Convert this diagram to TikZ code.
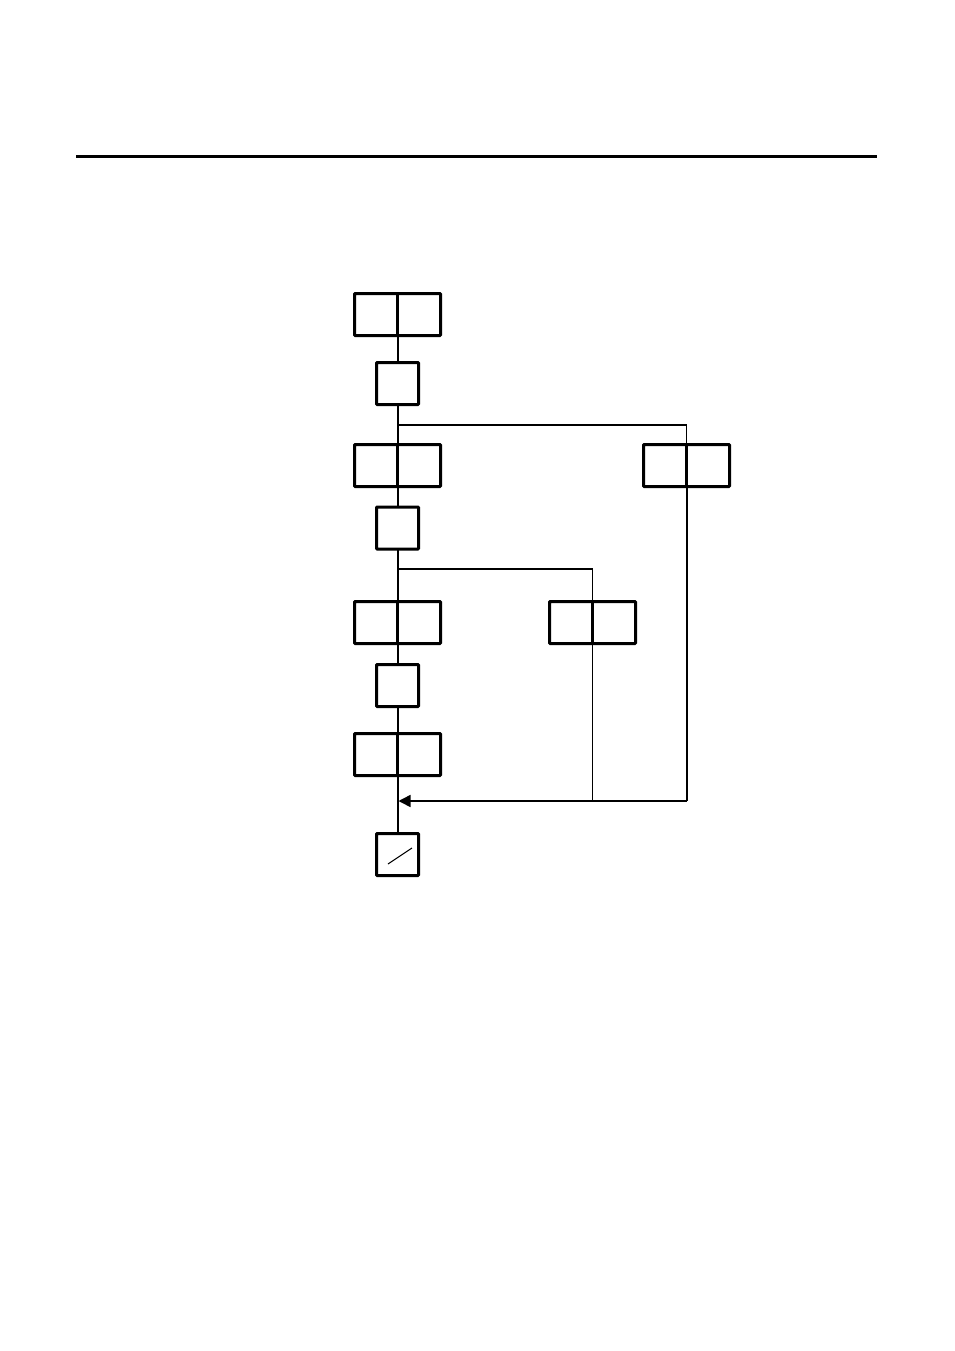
\documentclass[tikz,border=0pt]{standalone}
\usetikzlibrary{arrows.meta}
\begin{document}
\begin{tikzpicture}[x=1pt,y=-1pt,
  dbox/.style={draw,line width=3pt,rounded corners=0.8pt,minimum width=86pt,minimum height=42pt,inner sep=0pt,outer sep=0pt},
  sbox/.style={draw,line width=3pt,rounded corners=0.8pt,minimum width=42pt,minimum height=42pt,inner sep=0pt,outer sep=0pt},
  divider/.style={line width=3pt},
  conn/.style={line width=2pt},
  branch/.style={line width=1.5pt},
  thin conn/.style={line width=1pt}]
\useasboundingbox (0,0) rectangle (954,1351);
\draw[line width=3pt] (76,157) -- (877,157);
% nodes
\node[dbox] (b1) at (397.5,314.5) {};
\node[sbox] (s1) at (397.5,383.5) {};
\node[dbox] (b3) at (397.5,465.5) {};
\node[dbox] (rb) at (686.5,465.5) {};
\node[sbox] (s2) at (397.5,528) {};
\node[dbox] (b4) at (397.5,622.5) {};
\node[dbox] (mb) at (592.5,622.5) {};
\node[sbox] (s3) at (397.5,685.5) {};
\node[dbox] (b5) at (397.5,754.5) {};
\node[sbox] (fin) at (397.5,854.5) {};
% dividers
\foreach \n in {b1,b3,rb,b4,mb,b5} \draw[divider] (\n.north) -- (\n.south);
% slash in final box
\draw[line width=1pt] (388,864) -- (412,848);
% coordinates
\coordinate (j1) at (397.5,425);
\coordinate (j2) at (397.5,569);
\coordinate (m) at (397.5,801);
% left column
\draw[conn] (b1.south) -- (s1.north);
\draw[conn] (s1.south) -- (b3.north);
\draw[conn] (b3.south) -- (s2.north);
\draw[conn] (s2.south) -- (b4.north);
\draw[conn] (b4.south) -- (s3.north);
\draw[conn] (s3.south) -- (b5.north);
\draw[conn] (b5.south) -- (fin.north);
% branches
\draw[branch] (j1) -| (rb.north);
\draw[branch] (j2) -| (mb.north);
\draw[conn] (rb.south) -- (rb.south |- m);
\draw[thin conn] (mb.south) -- (mb.south |- m);
\draw[branch,-{Triangle[length=12pt,width=12pt]}] (rb.south |- m) -- ([xshift=1pt]m);
\end{tikzpicture}
\end{document}
